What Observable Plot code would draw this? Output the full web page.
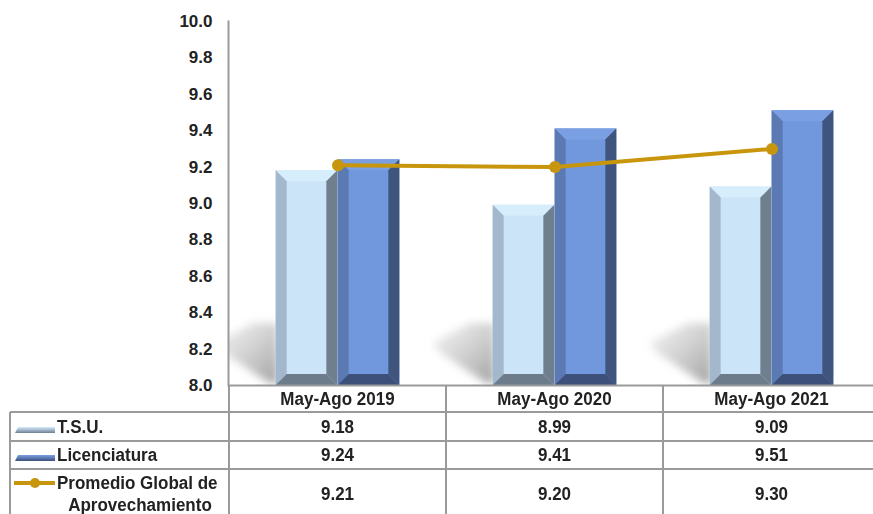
<!DOCTYPE html>
<html><head><meta charset="utf-8">
<script src="https://cdn.jsdelivr.net/npm/d3@7"></script>
<script src="https://cdn.jsdelivr.net/npm/@observablehq/plot@0.6"></script>
<style>
html,body{margin:0;padding:0;background:#fff;overflow:hidden;width:873px;height:514px;}
#wrap{position:relative;width:873px;height:514px;overflow:hidden;font-family:"Liberation Sans",Arial,sans-serif;}
#chart{position:absolute;left:0;top:0;}
.ln{position:absolute;background:#9a9a9a;}
.tx{position:absolute;font-weight:bold;font-size:17px;color:#222;white-space:nowrap;line-height:20px;transform:scaleY(1.1);}
.sw{position:absolute;}
</style></head>
<body><div id="wrap"><div id="chart"></div></div>
<script>
// ---- data ----
const periods = ["May-Ago 2019", "May-Ago 2020", "May-Ago 2021"];
const tsu = [9.18, 8.99, 9.09];
const licenciatura = [9.24, 9.41, 9.51];
const promedio = [9.21, 9.20, 9.30];
const seriesNames = ["T.S.U.", "Licenciatura", ["Promedio Global de", "Aprovechamiento"]];
const yTicks = [8.0, 8.2, 8.4, 8.6, 8.8, 9.0, 9.2, 9.4, 9.6, 9.8, 10.0];
const colors = {
  tsu: {center: "#cbe4f8", top: "#d6edfc", left: "#a3b8cd", right: "#6f7f8d", bottom: "#6c7c8a"},
  lic: {center: "#7198dd", top: "#7a9fe2", left: "#5b79b3", right: "#3f557e", bottom: "#3d5079"},
  line: "#c8960c"
};

const tsuData = periods.map((p, i) => ({period: p, value: tsu[i]}));
const licData = periods.map((p, i) => ({period: p, value: licenciatura[i]}));
const lineData = periods.map((p, i) => ({period: p, value: promedio[i]}));

const W = 880, ML = 228;
const band = (W - ML) / periods.length;
const barW = 62;

const chart = Plot.plot({
  width: W, height: 386,
  marginLeft: ML, marginRight: 0, marginTop: 21, marginBottom: 1,
  style: {fontFamily: "'Liberation Sans', Arial, sans-serif", fontSize: "17px", fontWeight: "bold", color: "#222", maxWidth: "none", background: "transparent", overflow: "visible"},
  x: {domain: periods, padding: 0, axis: null},
  y: {domain: [8, 10], ticks: yTicks, tickFormat: d => d.toFixed(1), tickSize: 0, tickPadding: 16, label: null},
  marks: [
    Plot.barY(tsuData, {x: "period", y1: 8, y2: "value", insetLeft: band / 2 - barW, insetRight: band / 2, fill: colors.tsu.center}),
    Plot.barY(licData, {x: "period", y1: 8, y2: "value", insetLeft: band / 2, insetRight: band / 2 - barW, fill: colors.lic.center}),
    Plot.frame({anchor: "left", stroke: "#9a9a9a", strokeWidth: 2}),
    Plot.ruleY([8], {stroke: "#9a9a9a", strokeWidth: 2}),
    Plot.line(lineData, {x: "period", y: "value", stroke: colors.line, strokeWidth: 4}),
    Plot.dot(lineData, {x: "period", y: "value", r: 6, fill: colors.line, stroke: "none"})
  ]
});
document.getElementById("chart").append(chart);

// ---- bevel + shadow decoration from the rendered bar geometry ----
const svg = d3.select(chart);
const barGroups = svg.selectAll('g[aria-label="bar"]').nodes();
const tsuG = barGroups[0], licG = barGroups[1];

const defs = svg.insert("defs", ":first-child");
defs.append("filter").attr("id", "blur").attr("x", "-50%").attr("y", "-50%").attr("width", "200%").attr("height", "200%")
  .append("feGaussianBlur").attr("stdDeviation", 4);
const grad = defs.append("linearGradient").attr("id", "shgrad").attr("x1", "1").attr("y1", "1").attr("x2", "0").attr("y2", "0");
grad.append("stop").attr("offset", "0").attr("stop-color", "#9a9a9a").attr("stop-opacity", 0.95);
grad.append("stop").attr("offset", "1").attr("stop-color", "#d8d8d8").attr("stop-opacity", 0.35);
defs.append("clipPath").attr("id", "plotclip").append("rect")
  .attr("x", ML + 1).attr("y", 0).attr("width", W - ML).attr("height", 385);

const shadowOuter = d3.select(tsuG.parentNode).insert("g", () => tsuG).attr("clip-path", "url(#plotclip)");
const shadowG = shadowOuter.append("g").attr("filter", "url(#blur)");
d3.select(tsuG).selectAll("rect").each(function() {
  const x = +this.getAttribute("x"), y = +this.getAttribute("y"), h = +this.getAttribute("height");
  const yb = y + h;
  const pts = [[x + 2, yb - 1], [x + 2, yb - 62], [x - 22, yb - 62], [x - 60, yb - 42], [x - 52, yb - 32], [x - 8, yb - 3]];
  shadowG.append("polygon")
    .attr("points", pts.map(p => p.join(",")).join(" "))
    .attr("fill", "url(#shgrad)");
});

function bevel(groupNode, c) {
  d3.select(groupNode).selectAll("rect").each(function() {
    const x = +this.getAttribute("x"), y = +this.getAttribute("y");
    const w = +this.getAttribute("width"), h = +this.getAttribute("height"), b = 11;
    const g = d3.select(this.parentNode);
    const polys = [
      [[[x, y], [x + w, y], [x + w - b, y + b], [x + b, y + b]], c.top],
      [[[x, y], [x + b, y + b], [x + b, y + h - b], [x, y + h]], c.left],
      [[[x + w, y], [x + w - b, y + b], [x + w - b, y + h - b], [x + w, y + h]], c.right],
      [[[x, y + h], [x + w, y + h], [x + w - b, y + h - b], [x + b, y + h - b]], c.bottom]
    ];
    for (const [pts, fill] of polys) {
      g.append("polygon").attr("points", pts.map(p => p.join(",")).join(" ")).attr("fill", fill);
    }
  });
}
bevel(tsuG, colors.tsu);
bevel(licG, colors.lic);

// ---- data table below the chart (columns from the chart's x scale) ----
const wrap = document.getElementById("wrap");
const xs = chart.scale("x");
const colStarts = periods.map(p => xs.apply(p));
const bw = xs.bandwidth;
const rowsY = [385, 412, 441, 469, 530];
function line(x, y, w, h) {
  const d = document.createElement("div");
  d.className = "ln";
  Object.assign(d.style, {left: x + "px", top: y + "px", width: w + "px", height: h + "px"});
  wrap.append(d);
}
function text(str, cx, cy, align = "center") {
  const d = document.createElement("div");
  d.className = "tx";
  d.textContent = str;
  wrap.append(d);
  const w = d.getBoundingClientRect().width;
  const left = align === "center" ? cx - w / 2 : cx;
  Object.assign(d.style, {left: left + "px", top: (cy - 10) + "px"});
}
for (const y of rowsY.slice(1, 4)) line(10, y - 1, 873, 2);
line(9, 412, 2, 110);
for (const x0 of colStarts) line(x0 - 1, 385, 2, 140);

periods.forEach((p, i) => text(p, colStarts[i] + bw / 2, 399));
const rowVals = [tsu, licenciatura, promedio];
const rowCY = [427, 455, 494];
rowVals.forEach((vals, r) => vals.forEach((v, i) => text(v.toFixed(2), colStarts[i] + bw / 2, rowCY[r])));
text(seriesNames[0], 57, 427, "left");
text(seriesNames[1], 57, 455, "left");
text(seriesNames[2][0], 57, 483, "left");
text(seriesNames[2][1], 140, 505);

function swatch(top, grad) {
  const d = document.createElement("div");
  d.className = "sw";
  Object.assign(d.style, {left: "15px", top: top + "px", width: "40px", height: "6px", background: grad, clipPath: "polygon(3px 0, 100% 0, 100% 100%, 0 100%)"});
  wrap.append(d);
}
swatch(427, `linear-gradient(to bottom, ${colors.tsu.top}, ${colors.tsu.left} 50%, ${colors.tsu.right})`);
swatch(455, `linear-gradient(to bottom, ${colors.lic.top}, ${colors.lic.left} 50%, ${colors.lic.bottom})`);
const pl = document.createElement("div");
pl.className = "sw";
Object.assign(pl.style, {left: "14px", top: "481px", width: "41px", height: "4px", background: colors.line});
wrap.append(pl);
const pd = document.createElement("div");
pd.className = "sw";
Object.assign(pd.style, {left: "30px", top: "478px", width: "10px", height: "10px", borderRadius: "50%", background: colors.line});
wrap.append(pd);
</script>
</body></html>
